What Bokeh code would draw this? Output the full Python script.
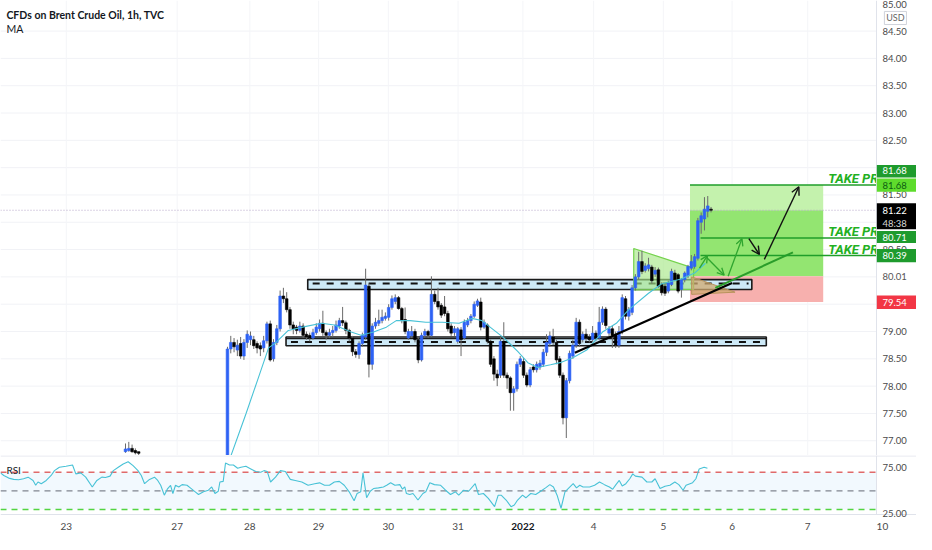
import numpy as np
from bokeh.plotting import figure
from bokeh.models import Range1d, Label, Arrow, OpenHead, ColumnDataSource
from bokeh.layouts import column
from bokeh.embed import file_html
from bokeh.resources import INLINE
from bokeh.core.properties import value

# ---------------- data ----------------
title_text = "CFDs on Brent Crude Oil, 1h, TVC"
day_ticks = [20.0, 53.7, 75.8, 96.7, 117.9, 139.1, 158.8, 180.3, 201.5, 222.4, 245.4, 268.1]
day_labels = ["23", "27", "28", "29", "30", "31", "2022", "4", "5", "6", "7", "10"]
price_ticks = [77.0, 77.5, 78.0, 78.5, 79.0, 80.5, 81.5, 82.5, 83.0, 83.5, 84.0, 84.5]
top_tick = 85.0
grid_ticks = [77.0, 77.5, 78.0, 78.5, 79.0, 79.5, 80.0, 80.5, 81.0, 81.5, 82.0, 82.5,
              83.0, 83.5, 84.0, 84.5]
rsi_ticks = [75, 25]
rsi_levels = [70, 50, 30]

# hourly candles, first visible group (bar index start 38)
start_a = 38
open_a = [76.80, 76.82, 76.86, 76.82, 76.80]
high_a = [76.95, 76.98, 76.93, 76.86, 76.80]
low_a = [76.78, 76.80, 76.78, 76.75, 76.74]
close_a = [76.85, 76.86, 76.80, 76.78, 76.77]

# second visible group (bar index start 69)
start_b = 69
open_b = [
    76.60, 78.68, 78.80, 78.66, 78.78, 78.55, 78.80, 78.85, 78.85, 78.78,
    78.74, 78.70, 78.83, 79.14, 78.50, 78.80, 79.05, 79.65, 79.60, 79.40,
    79.12, 79.08, 79.02, 79.10, 78.95, 78.93, 78.88, 78.98, 79.05, 79.15,
    78.98, 78.93, 78.98, 79.02, 79.10, 79.20, 79.16, 79.02, 78.88, 78.63,
    78.58, 78.78, 78.90, 79.83, 78.40, 79.10, 79.15, 79.20, 79.24, 79.26,
    79.44, 79.55, 79.62, 79.42, 79.22, 78.88, 78.92, 79.00, 78.85, 78.48,
    78.93, 79.00, 78.93, 79.68, 79.55, 79.48, 79.45, 79.33, 79.10, 78.98,
    78.82, 79.03, 78.88, 79.12, 79.20, 79.28, 79.48, 79.54, 79.08, 79.12,
    78.82, 78.50, 78.22, 78.20, 78.82, 78.20, 78.15, 77.88, 77.95, 78.40,
    78.45, 78.20, 78.02, 78.35, 78.30, 78.35, 78.40, 78.62, 78.78, 78.90,
    78.80, 78.50, 78.20, 77.42, 78.10, 78.55, 78.75, 79.17, 78.85, 78.95,
    78.90, 78.85, 78.97, 78.88, 79.17, 79.41, 78.97, 79.05, 78.95, 78.75,
    79.00, 79.60, 79.28, 79.35, 79.80, 80.00, 80.28, 80.12, 80.15, 80.18,
    80.05, 80.13, 79.86, 79.83, 79.74, 79.86, 80.07, 80.04, 79.77, 79.95,
    80.02, 80.16, 80.19, 80.34, 81.00, 81.06, 81.20, 81.24]
high_b = [
    78.72, 78.92, 78.88, 78.85, 78.90, 78.86, 79.02, 79.00, 78.92, 78.82,
    78.80, 78.92, 79.18, 79.20, 78.86, 79.12, 79.75, 79.80, 79.72, 79.45,
    79.18, 79.12, 79.18, 79.15, 79.00, 78.98, 79.05, 79.15, 79.22, 79.38,
    79.02, 79.05, 79.10, 79.20, 79.25, 79.45, 79.20, 79.05, 78.92, 78.68,
    78.82, 78.98, 80.15, 79.88, 79.15, 79.25, 79.40, 79.40, 79.35, 79.50,
    79.66, 79.68, 79.65, 79.45, 79.44, 79.05, 79.10, 79.05, 78.90, 78.98,
    79.05, 79.03, 80.01, 79.75, 79.80, 79.52, 79.65, 79.38, 79.15, 79.10,
    79.08, 79.08, 79.22, 79.25, 79.32, 79.55, 79.60, 79.62, 79.22, 79.15,
    78.85, 78.55, 78.30, 78.90, 79.17, 78.25, 78.18, 78.00, 78.45, 78.55,
    78.52, 78.25, 78.35, 78.40, 78.45, 78.48, 78.68, 78.95, 79.00, 79.05,
    78.85, 78.55, 78.25, 78.15, 78.65, 78.85, 79.25, 79.22, 79.00, 79.05,
    78.95, 79.10, 79.02, 79.45, 79.46, 79.45, 79.10, 79.10, 79.00, 79.10,
    79.68, 79.65, 79.45, 79.85, 80.05, 80.46, 80.48, 80.25, 80.35, 80.22,
    80.18, 80.17, 79.90, 79.88, 79.93, 80.15, 80.13, 80.07, 79.98, 80.10,
    80.22, 80.40, 80.42, 81.08, 81.18, 81.46, 81.48, 81.28]
low_b = [
    76.50, 78.60, 78.62, 78.55, 78.50, 78.48, 78.70, 78.75, 78.68, 78.60,
    78.55, 78.62, 78.78, 78.45, 78.45, 78.75, 79.00, 79.52, 79.35, 79.05,
    78.95, 78.95, 78.98, 78.88, 78.85, 78.82, 78.85, 78.94, 79.00, 78.92,
    78.85, 78.88, 78.90, 78.98, 79.05, 79.10, 78.95, 78.82, 78.55, 78.52,
    78.50, 78.72, 78.85, 78.16, 78.30, 79.05, 79.10, 79.15, 79.20, 79.20,
    79.40, 79.50, 79.40, 79.15, 78.95, 78.85, 78.88, 78.80, 78.42, 78.45,
    78.88, 78.88, 78.90, 79.50, 79.40, 79.25, 79.28, 79.00, 78.92, 78.92,
    78.78, 78.55, 78.85, 79.08, 79.15, 79.25, 79.45, 79.02, 79.05, 78.78,
    78.35, 78.10, 78.00, 78.15, 78.15, 77.95, 77.55, 77.55, 77.90, 78.35,
    78.15, 77.98, 77.98, 78.25, 78.25, 78.30, 78.35, 78.55, 78.72, 78.75,
    78.40, 78.15, 77.30, 77.05, 78.05, 78.50, 78.70, 78.72, 78.80, 78.82,
    78.80, 78.80, 78.82, 78.85, 79.12, 79.05, 78.92, 78.70, 78.70, 78.70,
    78.95, 79.22, 79.20, 79.30, 79.75, 79.95, 80.05, 80.08, 80.10, 79.88,
    80.00, 79.80, 79.66, 79.65, 79.70, 79.83, 79.92, 79.70, 79.62, 79.90,
    79.98, 80.12, 80.15, 80.30, 80.79, 80.85, 81.09, 81.18]
close_b = [
    78.68, 78.80, 78.72, 78.75, 78.55, 78.80, 78.95, 78.92, 78.74, 78.70,
    78.68, 78.83, 79.14, 78.48, 78.80, 79.05, 79.65, 79.60, 79.40, 79.12,
    79.05, 79.02, 79.10, 78.93, 78.90, 78.88, 78.98, 79.08, 79.15, 78.98,
    78.93, 78.98, 79.02, 79.12, 79.20, 79.16, 79.02, 78.88, 78.63, 78.58,
    78.78, 78.93, 79.85, 78.40, 79.10, 79.17, 79.20, 79.26, 79.28, 79.44,
    79.60, 79.62, 79.42, 79.20, 79.00, 79.00, 79.00, 78.85, 78.48, 78.93,
    79.00, 78.93, 79.68, 79.55, 79.45, 79.30, 79.33, 79.05, 78.97, 79.05,
    79.05, 78.85, 79.17, 79.20, 79.28, 79.50, 79.56, 79.08, 79.17, 78.82,
    78.40, 78.22, 78.15, 78.82, 78.20, 78.15, 77.88, 77.95, 78.40, 78.50,
    78.20, 78.02, 78.30, 78.30, 78.40, 78.42, 78.62, 78.80, 78.92, 78.80,
    78.48, 78.20, 77.42, 78.10, 78.60, 78.75, 79.17, 78.78, 78.95, 78.88,
    78.85, 78.97, 78.88, 79.17, 79.41, 79.11, 79.05, 78.93, 78.75, 79.00,
    79.62, 79.28, 79.40, 79.80, 80.00, 80.28, 80.10, 80.20, 80.22, 79.93,
    80.12, 79.83, 79.71, 79.70, 79.89, 80.10, 79.95, 79.74, 79.95, 80.07,
    80.19, 80.28, 80.37, 81.03, 81.12, 81.24, 81.30, 81.22]

# moving average (bar, value)
ma_pts = [(69.9, 76.70), (74.6, 77.49), (78.2, 78.12), (81.5, 78.70), (83.6, 78.79),
          (87.5, 79.02), (92.5, 79.09), (97.6, 79.15), (101.5, 79.12), (106.6, 78.99),
          (109.6, 78.93), (113.4, 78.99), (117.3, 79.08), (120.3, 79.20), (124.5, 79.20),
          (129.3, 79.17), (134.3, 79.17), (139.4, 79.15), (143.3, 79.24), (146.3, 79.20),
          (150.1, 79.02), (153.1, 78.88), (157.3, 78.63), (160.3, 78.43), (163.3, 78.34),
          (167.2, 78.39), (170.1, 78.43), (174.0, 78.52), (178.2, 78.66), (183.0, 78.99),
          (187.2, 79.15), (191.0, 79.40), (197.0, 79.70), (200.9, 79.87), (206.9, 79.96),
          (211.0, 80.07), (214.3, 80.25)]

# RSI (bar, value)
rsi_pts = [(0, 69.3), (1.0, 66.5), (2.5, 63.7), (4.0, 62.3), (5.5, 61.9), (7.0, 63.0),
           (8.4, 64.7), (9.9, 61.2), (10.7, 56.0), (11.4, 59.5), (12.4, 57.7), (13.9, 61.2),
           (15.4, 66.5), (16.4, 71.7), (17.9, 75.3), (19.9, 76.3), (21.9, 77.7), (22.9, 68.2),
           (24.4, 69.3), (25.9, 64.7), (27.9, 54.2), (29.3, 61.2), (30.8, 64.7), (31.9, 64.4),
           (33.3, 65.8), (34.3, 71.7), (35.8, 75.3), (37.3, 78.8), (38.8, 81.2), (40.3, 77.0),
           (41.8, 71.7), (42.8, 66.5), (43.8, 57.7), (45.3, 62.3), (46.8, 64.7), (47.8, 61.2),
           (48.7, 56.0), (49.8, 45.4), (50.7, 51.8), (51.7, 56.0), (52.4, 47.2), (53.2, 56.0),
           (54.2, 54.2), (55.2, 56.7), (56.7, 56.0), (57.7, 53.2), (59.2, 49.0), (60.2, 46.1),
           (61.7, 49.0), (63.2, 50.7), (64.2, 54.2), (65.2, 47.2), (66.2, 49.6), (66.7, 59.5),
           (67.7, 60.2), (68.4, 79.8), (69.6, 77.7), (70.8, 77.7), (72.1, 74.2), (73.1, 75.3),
           (74.6, 76.3), (76.1, 73.5), (77.6, 70.7), (79.1, 70.0), (80.1, 71.7), (81.1, 70.7),
           (82.1, 59.5), (83.6, 64.7), (85.1, 71.7), (86.6, 70.7), (88.1, 62.3), (89.6, 61.2),
           (91.6, 59.5), (93.5, 56.0), (95.5, 57.7), (97.0, 58.6), (98.5, 56.0), (100.0, 56.0),
           (101.5, 59.5), (103.0, 60.2), (104.5, 56.0), (106.0, 49.0), (107.5, 39.5),
           (108.4, 47.2), (109.5, 49.0), (110.2, 69.3), (111.3, 42.6), (112.4, 49.6),
           (113.4, 52.5), (114.9, 53.2), (116.4, 54.2), (117.4, 56.0), (118.6, 58.8),
           (119.9, 56.0), (121.4, 56.7), (122.2, 51.8), (122.9, 54.2), (123.4, 47.2),
           (124.4, 46.1), (125.4, 47.2), (126.9, 40.2), (128.4, 47.2), (129.3, 49.0),
           (130.5, 58.8), (131.9, 56.7), (133.8, 56.0), (135.3, 50.7), (136.8, 46.1),
           (138.3, 49.0), (139.3, 45.4), (140.8, 50.7), (142.3, 49.6), (144.3, 57.7),
           (145.3, 46.1), (146.8, 47.2), (148.3, 41.9), (150.2, 33.1), (151.3, 45.4),
           (152.2, 45.4), (153.7, 40.2), (155.2, 33.1), (156.2, 34.9), (157.2, 40.2),
           (158.7, 45.4), (159.7, 42.6), (161.2, 47.2), (162.7, 46.1), (164.2, 49.6),
           (165.7, 53.2), (167.0, 56.7), (168.1, 54.2), (169.2, 45.4), (170.4, 31.4),
           (171.6, 49.0), (173.1, 54.2), (174.1, 57.7), (175.1, 53.2), (176.1, 56.0),
           (177.1, 54.2), (179.1, 54.2), (180.6, 56.0), (182.1, 59.5), (183.6, 56.7),
           (185.1, 54.2), (186.1, 51.8), (187.1, 56.7), (188.1, 61.2), (189.0, 55.3),
           (190.1, 57.7), (191.3, 63.0), (192.2, 68.2), (193.0, 65.8), (195.0, 64.7),
           (196.5, 59.5), (198.0, 59.5), (199.0, 63.0), (200.5, 52.5), (202.0, 54.9),
           (203.5, 56.0), (205.0, 59.5), (206.2, 56.7), (207.5, 50.7), (208.4, 56.0),
           (210.4, 58.8), (211.4, 63.0), (212.4, 73.5), (213.9, 75.3), (214.9, 74.2)]

# trade levels
entry_price = 80.01
stop_price = 79.54
tp_prices = [81.68, 80.71, 80.39]
last_price = 81.22
timer_text = "48:38"

# ---------------- drawings (chart annotations) ----------------
upper_zone = dict(left=93.4, right=228.4, top=79.95, bottom=79.77, mid=79.88)
lower_zone = dict(left=86.8, right=232.8, top=78.90, bottom=78.74, mid=78.81, extra=78.87)
trend_black = ([174.6, 222.4], [78.61, 79.89])
trend_green = ([217.3, 240.9], [79.80, 80.45])
pennant = ([192.5, 210.7, 210.7, 192.5], [80.52, 80.16, 79.77, 79.76])
brown_tri = ([210.1, 223.3, 210.1], [80.00, 79.72, 79.68])
pos_box = dict(left=209.6, right=250.1)
tp_line_start = [209.6, 212.8, 212.8]
tp_text_x = 251.6
black_arrows = [(232.2, 80.32, 242.7, 81.65), (227.5, 80.70, 230.7, 80.41)]
green_arrows = [(212.5, 80.16, 214.9, 80.39), (214.6, 80.36, 220.0, 80.03),
                (221.2, 80.01, 225.4, 80.70)]
# price-axis tags: (text, box bottom, box top, text y, fill, text colour)
axis_tags = [
    ("81.68", 81.82, 82.05, 81.94, "#1e9b2d", "#ffffff"),
    ("81.68", 81.56, 81.80, 81.68, "#5edc2c", "#0c5c13"),
    ("80.71", 80.62, 80.84, 80.72, "#1e9b2d", "#ffffff"),
    ("80.39", 80.27, 80.51, 80.39, "#1e9b2d", "#ffffff"),
    ("79.54", 79.41, 79.66, 79.54, "#f23645", "#ffffff"),
]
price_tag = (80.87, 81.35, 81.22, 80.97)

# ---------------- figures ----------------
X_END = 266.3          # right edge of the chart area (bars)
X_FULL = 278.46        # right edge including price-scale column
LAB_X = 268.1
Y_TOP = 85.06
Y_BOT = 76.73
FONT = "Lato"
BLUE = "#2d62f5"
CYAN = "#48c2d6"
SEP = "#e0e3eb"
GRID = "#f1f2f6"
AX_TXT = "#4a4a4a"

xr = Range1d(0, X_FULL)
common = dict(x_range=xr, x_axis_location=None, y_axis_location=None, toolbar_location=None,
              output_backend="svg", min_border_left=0, min_border_right=0, min_border_top=0,
              min_border_bottom=0, outline_line_color=None, background_fill_color="white",
              border_fill_color="white")

p1 = figure(frame_width=916, frame_height=455, y_range=Range1d(Y_BOT, Y_TOP), **common)
p1.grid.visible = False

# grid
p1.segment(x0=0, x1=X_END, y0=grid_ticks, y1=grid_ticks, line_color=GRID, line_width=1)
p1.segment(x0=day_ticks[:-1], x1=day_ticks[:-1], y0=Y_BOT, y1=Y_TOP, line_color="#f4f5f8",
           line_width=1)

# position tool boxes
p1.quad(left=pos_box["left"], right=pos_box["right"], bottom=last_price, top=tp_prices[0],
        fill_color="#c4f2ad", line_color=None)
p1.quad(left=pos_box["left"], right=pos_box["right"], bottom=entry_price, top=last_price,
        fill_color="#93e571", line_color=None)
p1.quad(left=pos_box["left"], right=pos_box["right"], bottom=stop_price, top=entry_price,
        fill_color="#f7b0ae", line_color=None)

# zones
for z in (upper_zone, lower_zone):
    p1.quad(left=z["left"], right=z["right"], bottom=z["bottom"], top=z["top"],
            fill_color="#cde9f7", line_color="#1a1a1a", line_width=1.6)
    p1.segment(x0=z["left"] + 1.5, x1=z["right"] - 1, y0=z["mid"], y1=z["mid"],
               line_color="#111111", line_width=2, line_dash="7 7")
p1.segment(x0=lower_zone["left"], x1=lower_zone["right"], y0=lower_zone["extra"],
           y1=lower_zone["extra"], line_color="#1a1a1a", line_width=1.4)

# pennant & brown triangle
p1.patch(pennant[0], pennant[1], fill_color="#a8e889", fill_alpha=0.65,
         line_color="#74d24c", line_width=1.2)
p1.patch(brown_tri[0], brown_tri[1], fill_color="#cfa86f", fill_alpha=0.75,
         line_color="#b8935c", line_width=1)

# current price dotted line
p1.segment(x0=0, x1=X_END, y0=last_price, y1=last_price, line_color="#b7a6c8",
           line_dash="1 2", line_width=1)

# candles
def candles(start, o, h, l, c):
    o = np.array(o); h = np.array(h); l = np.array(l); c = np.array(c)
    x = np.arange(start, start + len(o))
    col = [BLUE if cc >= oo else "#000000" for oo, cc in zip(o, c)]
    src = ColumnDataSource(dict(x=x, h=h, l=l, top=np.maximum(o, c),
                                bot=np.minimum(o, c), col=col))
    p1.segment(x0="x", x1="x", y0="l", y1="h", source=src, line_color="#6a6a6a", line_width=1)
    p1.vbar(x="x", width=0.8, top="top", bottom="bot", source=src,
            fill_color="col", line_color="col", line_width=0.6)

candles(start_a, open_a, high_a, low_a, close_a)
candles(start_b, open_b, high_b, low_b, close_b)

# moving average
p1.line([q[0] for q in ma_pts], [q[1] for q in ma_pts], line_color=CYAN, line_width=1.1)

# trend lines
p1.line(trend_black[0], trend_black[1], line_color="#000000", line_width=2.2)
p1.line(trend_green[0], trend_green[1], line_color="#2a9d2a", line_width=2)

# take-profit lines and texts
for x0, tp in zip(tp_line_start, tp_prices):
    p1.segment(x0=x0, x1=X_END, y0=tp, y1=tp, line_color="#1f9e2a", line_width=1.5)
p1.text(x=[tp_text_x] * 3, y=tp_prices, text=["TAKE PROFIT"] * 3,
        text_font=value("Roboto"), text_font_style="bold italic", text_font_size="13px",
        text_color="#22b022", text_baseline="bottom", y_offset=1)

# price-scale column (covers anything drawn past the chart edge)
p1.quad(left=X_END, right=X_FULL, bottom=76.0, top=86.0, fill_color="white", line_color=None)
p1.segment(x0=X_END, x1=X_END, y0=Y_BOT, y1=Y_TOP, line_color=SEP, line_width=1)
p1.text(x=[LAB_X] * len(price_ticks), y=price_ticks, text=[f"{t:.2f}" for t in price_ticks],
        text_font=value(FONT), text_font_size="9.5px", text_color=AX_TXT,
        text_baseline="middle")
p1.text(x=[LAB_X], y=[Y_TOP], text=[f"{top_tick:.2f}"], text_font=value(FONT),
        text_font_size="9.5px", text_color=AX_TXT, text_baseline="top", y_offset=0)
for (t, b, tp, ty, fc, tc) in axis_tags:
    p1.quad(left=X_END + 0.1, right=X_FULL, bottom=b, top=tp, fill_color=fc, line_color=None)
    p1.text(x=[LAB_X], y=[ty], text=[t], text_font=value(FONT), text_font_size="9.5px",
            text_color=tc, text_baseline="middle")
p1.quad(left=X_END + 0.1, right=X_FULL, bottom=price_tag[0], top=price_tag[1],
        fill_color="#000000", line_color=None)
p1.text(x=[LAB_X, LAB_X], y=[price_tag[2], price_tag[3]], text=[f"{last_price:.2f}", timer_text],
        text_font=value(FONT), text_font_size="9.5px", text_color=["#ffffff", "#d8d8d8"],
        text_baseline="middle")
p1.text(x=[LAB_X], y=[entry_price], text=[f"{entry_price:.2f}"], text_font=value(FONT),
        text_font_size="9.5px", text_color="#555555", text_baseline="middle")
p1.quad(left=268.7, right=275.4, bottom=84.62, top=84.86, fill_color="white",
        line_color="#cfd2da", line_width=1)
p1.text(x=[272.05], y=[84.74], text=["USD"], text_font=value(FONT), text_font_size="9px",
        text_color="#666666", text_baseline="middle", text_align="center")

# arrows
for (xs, ys, xe, ye) in black_arrows:
    p1.add_layout(Arrow(end=OpenHead(size=8, line_color="#111111", line_width=1.4),
                        x_start=xs, y_start=ys, x_end=xe, y_end=ye,
                        line_color="#111111", line_width=1.4))
for (xs, ys, xe, ye) in green_arrows:
    p1.add_layout(Arrow(end=OpenHead(size=7, line_color="#2fa52f", line_width=1.3),
                        x_start=xs, y_start=ys, x_end=xe, y_end=ye,
                        line_color="#2fa52f", line_width=1.3))

# header texts
p1.add_layout(Label(x=1.8, y=84.79, text=title_text, text_font=FONT, text_font_size="10.5px",
                    text_font_style="bold", text_color="#131722", text_baseline="middle"))
p1.add_layout(Label(x=1.8, y=84.54, text="MA", text_font=FONT, text_font_size="10.5px",
                    text_color="#131722", text_baseline="middle"))

# ---------------- RSI pane + time scale ----------------
RSI_BOT = 24.7
RSI_TOP = 87.9
p2 = figure(frame_width=916, frame_height=83, y_range=Range1d(-1.0, RSI_TOP), **common)
p2.grid.visible = False
p2.quad(left=0, right=X_END, bottom=30, top=70, fill_color="#2196f3", fill_alpha=0.06,
        line_color=None)
for lv, colr in zip(rsi_levels, ["#e06a6a", "#808590", "#52d442"]):
    p2.segment(x0=0, x1=X_END, y0=lv, y1=lv, line_color=colr, line_dash="6 5", line_width=1.4)
p2.line([q[0] for q in rsi_pts], [q[1] for q in rsi_pts], line_color=CYAN, line_width=1.1)
p2.add_layout(Label(x=1.8, y=72.0, text="RSI", text_font=FONT, text_font_size="10px",
                    text_color="#131722", text_baseline="middle"))
# separators
p2.segment(x0=0, x1=X_FULL, y0=RSI_TOP - 0.5, y1=RSI_TOP - 0.5, line_color=SEP, line_width=1)
p2.segment(x0=0, x1=X_FULL, y0=RSI_BOT, y1=RSI_BOT, line_color=SEP, line_width=1)
p2.segment(x0=X_END, x1=X_END, y0=RSI_BOT, y1=RSI_TOP, line_color=SEP, line_width=1)
# rsi scale labels
p2.text(x=[LAB_X] * 2, y=[75, 26.3], text=[f"{t:.2f}" for t in rsi_ticks],
        text_font=value(FONT), text_font_size="9.5px", text_color=AX_TXT,
        text_baseline="middle")
# time scale labels
norm = [i for i, l in enumerate(day_labels) if l != "2022"]
p2.text(x=[day_ticks[i] for i in norm], y=[11.8] * len(norm),
        text=[day_labels[i] for i in norm], text_font=value(FONT), text_font_size="10px",
        text_color=AX_TXT, text_baseline="middle", text_align="center")
iy = day_labels.index("2022")
p2.text(x=[day_ticks[iy]], y=[11.8], text=[day_labels[iy]], text_font=value(FONT),
        text_font_size="10px", text_font_style="bold", text_color="#131722",
        text_baseline="middle", text_align="center")

layout = column(p1, p2, spacing=0)
open("out.html", "w").write(file_html(layout, INLINE))
